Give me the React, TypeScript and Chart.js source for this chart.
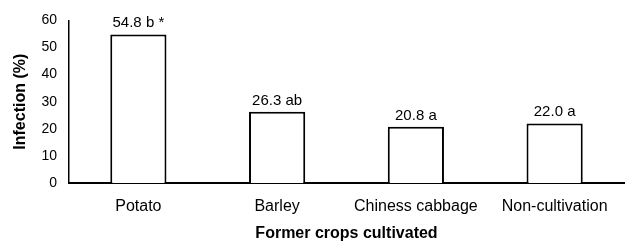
import React, { useEffect, useRef } from "react";
import { Chart, registerables } from "chart.js";

Chart.register(...registerables);

const categories = ["Potato", "Barley", "Chiness cabbage", "Non-cultivation"];
const values = [54.8, 26.3, 20.8, 22.0];
const annotations = ["54.8 b *", "26.3 ab", "20.8 a", "22.0 a"];
const yTicks = [0, 10, 20, 30, 40, 50, 60];

const FONT = "'Liberation Sans', Arial, Helvetica, sans-serif";

const labelPlugin = {
  id: "barLabels",
  afterDatasetsDraw(chart: any) {
    const { ctx } = chart;
    const meta = chart.getDatasetMeta(0);
    ctx.save();
    ctx.font = `15px ${FONT}`;
    ctx.fillStyle = "#000";
    ctx.textAlign = "center";
    ctx.textBaseline = "alphabetic";
    meta.data.forEach((bar: any, i: number) => {
      ctx.fillText(annotations[i], bar.x, bar.y - 7);
    });
    ctx.restore();
  },
};

export default function App() {
  const ref = useRef<HTMLCanvasElement>(null);
  useEffect(() => {
    if (!ref.current) return;
    const chart = new Chart(ref.current, {
      type: "bar",
      data: {
        labels: categories,
        datasets: [
          {
            data: values,
            backgroundColor: "#fff",
            borderColor: "#000",
            borderWidth: 2,
            barPercentage: 0.405,
            categoryPercentage: 1,
          },
        ],
      },
      options: {
        animation: false,
        responsive: false,
        maintainAspectRatio: false,
        layout: { padding: { left: 0, right: 6, top: 15, bottom: 0 } },
        plugins: { legend: { display: false }, tooltip: { enabled: false } },
        scales: {
          x: {
            grid: { display: false, drawTicks: false },
            border: { display: true, color: "#000", width: 2 },
            ticks: { color: "#000", font: { family: FONT, size: 16 }, padding: 14 },
            title: {
              display: true,
              text: "Former crops cultivated",
              color: "#000",
              font: { family: FONT, size: 16, weight: "bold" },
              padding: { top: 4, bottom: 4 },
            },
            afterFit(scale: any) {
              scale.height = 64;
            },
          },
          y: {
            min: 0,
            max: 60,
            grid: { display: false, drawTicks: false },
            border: { display: true, color: "#000", width: 1.5 },
            afterBuildTicks(scale: any) {
              scale.ticks = yTicks.map((v) => ({ value: v }));
            },
            ticks: { color: "#000", font: { family: FONT, size: 14 }, padding: 12 },
            title: {
              display: true,
              text: "Infection (%)",
              color: "#000",
              font: { family: FONT, size: 16, weight: "bold" },
              padding: { top: 11, bottom: 4 },
            },
            afterFit(scale: any) {
              scale.width = 69;
            },
          },
        },
      },
      plugins: [labelPlugin],
    });
    return () => chart.destroy();
  }, []);
  return (
    <div style={{ position: "absolute", left: 0, top: 0, width: 630, height: 247, background: "#fff" }}>
      <canvas ref={ref} width={630} height={247} />
    </div>
  );
}
